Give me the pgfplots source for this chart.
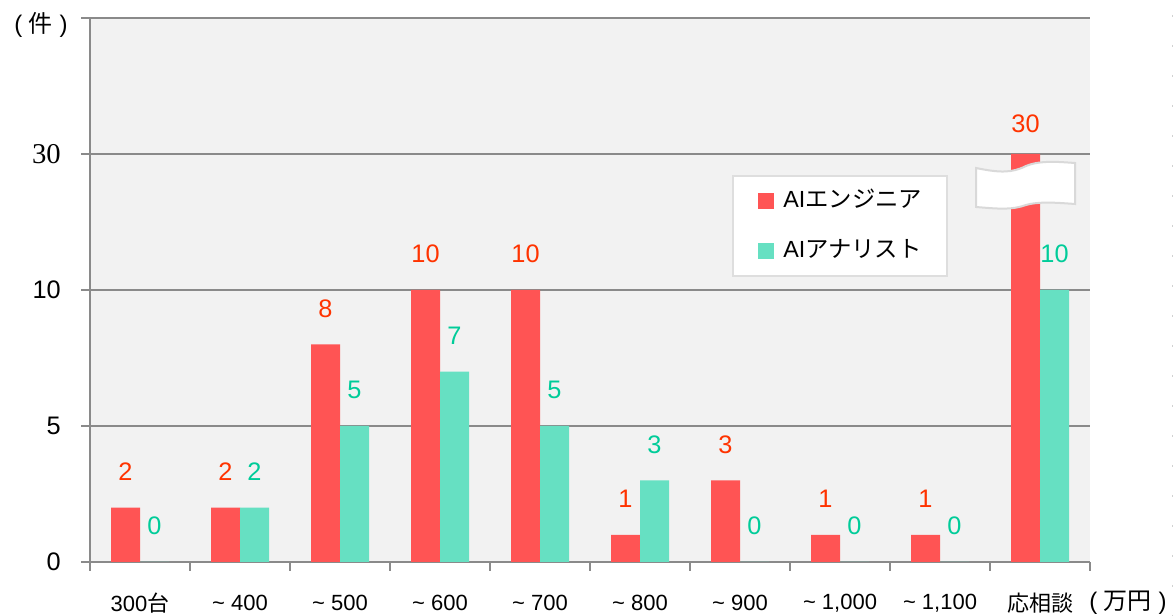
\documentclass[border=0pt]{standalone}
\usepackage{fontspec}
\setmainfont{Liberation Sans}
\newfontfamily\jp{Noto Sans CJK JP}
\newfontfamily\serifnum{Liberation Serif}
\usepackage{pgfplots}
\pgfplotsset{compat=1.18}

\definecolor{barred}{RGB}{255,84,84}
\definecolor{bargreen}{RGB}{102,224,194}
\definecolor{labred}{RGB}{255,51,0}
\definecolor{labgreen}{RGB}{0,204,153}
\definecolor{plotbg}{RGB}{242,242,242}
\definecolor{axgray}{RGB}{138,138,138}

\begin{document}
\begin{tikzpicture}
\begin{axis}[
    scale only axis,
    width=750pt, height=408pt,
    xmin=-0.5, xmax=9.5,
    ymin=0, ymax=50,
    % broken scale: 0-10 linear, 10-30 squeezed to a quarter
    y coord trafo/.code={\pgfmathparse{ifthenelse(#1>10,10+(#1-10)/4,#1)}},
    y coord inv trafo/.code={\pgfmathparse{ifthenelse(#1>10,10+(#1-10)*4,#1)}},
    /pgf/number format/assume math mode=true,
    axis background/.style={fill=plotbg},
    axis x line*=bottom, axis y line*=left,
    axis line style={axgray, line width=1.5pt},
    tick align=outside, major tick length=6.75pt,
    tick style={axgray, line width=1.5pt},
    ymajorgrids, grid style={axgray, line width=1.5pt},
    ytick={0,5,10,30,50},
    yticklabels={0,5,10,{\fontsize{21.5}{24}\serifnum 30},{}},
    yticklabel style={font=\fontsize{19}{22}\selectfont, anchor=east, inner sep=0pt, xshift=-15pt},
    xtick={-0.5,0.5,...,9.5},
    x tick label as interval,
    xticklabels={300{\jp 台},
        {\textasciitilde{} 400},{\textasciitilde{} 500},{\textasciitilde{} 600},
        {\textasciitilde{} 700},{\textasciitilde{} 800},{\textasciitilde{} 900},
        {\textasciitilde{} 1,000},{\textasciitilde{} 1,100},{\jp 応相談}},
    xticklabel style={font=\fontsize{16.5}{20}\selectfont, anchor=center, yshift=-24pt},
    ybar=0pt, bar width=21.75pt,
    nodes near coords, point meta=rawy,
    every node near coord/.append style={font=\fontsize{19}{22}\selectfont, anchor=center, yshift=27pt},
    coordinate style/.condition={meta>20}{yshift=-4.5pt},
    legend style={at={(rel axis cs:0.642,0.7114)}, anchor=north west,
        draw=black!13, line width=1.5pt, fill=white,
        inner xsep=19pt, inner ysep=10.5pt, row sep=21pt,
        nodes={inner sep=0pt, text height=13pt, text depth=3.5pt},
        font=\fontsize{17.5}{20}\selectfont,
        /tikz/every odd column/.append style={column sep=6.75pt}},
    legend cell align=left,
    legend image code/.code={\fill[#1, draw=none] (0pt,-6pt) rectangle (12pt,6pt);},
]
\addplot[fill=barred, draw=none, nodes near coords style={text=labred}] coordinates {
    (0,2) (1,2) (2,8) (3,10) (4,10) (5,1) (6,3) (7,1) (8,1) (9,30)
};
\addlegendentry{AI{\jp エンジニア}}
\addplot[fill=bargreen, draw=none, nodes near coords style={text=labgreen}] coordinates {
    (0,0) (1,2) (2,5) (3,7) (4,5) (5,3) (6,0) (7,0) (8,0) (9,10)
};
\addlegendentry{AI{\jp アナリスト}}
\coordinate (BL) at (rel axis cs:0,0);
\end{axis}

% pixel frame: origin at the picture's top left, y downwards
\begin{scope}[shift={(BL)}, xshift=-67.5pt, yshift=421.5pt, x=0.75pt, y=-0.75pt]
  % axis break marker on the last bar
  \draw[black!15, line width=1.5pt, fill=white]
    (976,168) .. controls (1000,173) and (1012,173) .. (1026,166)
    .. controls (1040,160) and (1060,162) .. (1075,163)
    -- (1075,204)
    .. controls (1060,203) and (1040,201) .. (1026,205)
    .. controls (1012,210) and (1000,209) .. (976,207) -- cycle;
  \node[font=\fontsize{18}{20}\selectfont, inner sep=0pt] at (41,25)
    {(\hspace{5pt}{\jp 件}\hspace{5pt})};
  \node[font=\fontsize{18}{20}\selectfont, anchor=west, inner sep=0pt] at (1089,603)
    {(\hspace{5pt}{\jp 万円}\hspace{5pt})};
  \draw[black!18, line width=0.75pt, dash pattern=on 1.5pt off 21pt] (1172,15) -- (1172,616);
\end{scope}
\pgfresetboundingbox
\path[use as bounding box] (BL) ++(-67.5pt,-40.5pt) rectangle ++(882pt,462pt);
\end{tikzpicture}
\end{document}
